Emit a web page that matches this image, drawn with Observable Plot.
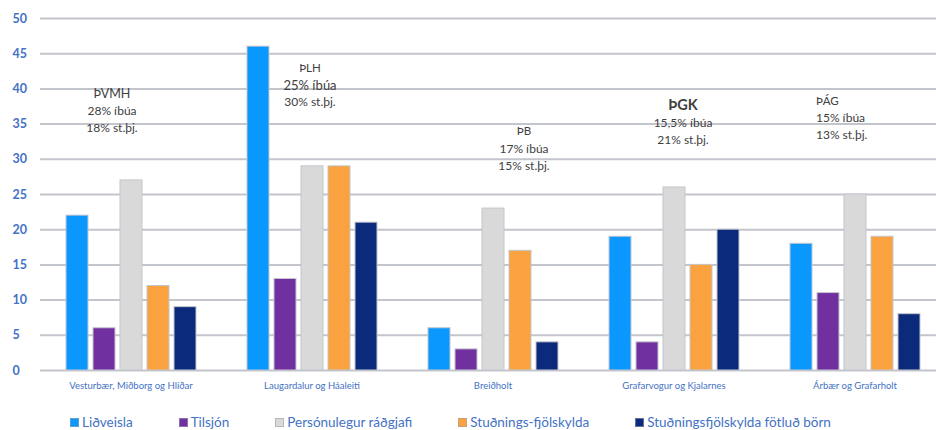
<!DOCTYPE html>
<html>
<head>
<meta charset="utf-8">
<script src="https://cdn.jsdelivr.net/npm/d3@7"></script>
<script src="https://cdn.jsdelivr.net/npm/@observablehq/plot@0.6"></script>
<style>
  html, body { margin: 0; padding: 0; background: #fff; overflow: hidden; }
  #chart { width: 936px; }
  .legend { display: flex; align-items: center; margin-left: 70px; margin-top: 7px; gap: 46px; height: 30px;
            font-family: Lato, "Open Sans", sans-serif; font-size: 13.5px; color: #4472c4; }
  .legend .item { display: flex; align-items: center; gap: 3px; white-space: nowrap; }
  .legend .sw { width: 9px; height: 9px; box-sizing: border-box; border: 1px solid rgba(160,160,170,0.6); }
</style>
</head>
<body>
<div id="chart"></div>
<script>
// ---- data ----
const districts = ["Vesturbær, Miðborg og Hlíðar", "Laugardalur og Háaleiti", "Breiðholt", "Grafarvogur og Kjalarnes", "Árbær og Grafarholt"];
const services = ["Liðveisla", "Tilsjón", "Persónulegur ráðgjafi", "Stuðnings-fjölskylda", "Stuðningsfjölskylda fötluð börn"];
const lidveisla = [22, 46, 6, 19, 18];
const tilsjon = [6, 13, 3, 4, 11];
const personulegur = [27, 29, 23, 26, 25];
const studnings = [12, 29, 17, 15, 19];
const studningsBorn = [9, 21, 4, 20, 8];
const yTicks = [0, 5, 10, 15, 20, 25, 30, 35, 40, 45, 50];

const annoHead = ["ÞVMH", "ÞLH", "ÞB", "ÞGK", "ÞÁG"];
const annoPop = ["28% íbúa", "25% íbúa", "17% íbúa", "15,5% íbúa", "15% íbúa"];
const annoServ = ["18% st.þj.", "30% st.þj.", "15% st.þj.", "21% st.þj.", "13% st.þj."];
const annoLevel = [36.9, 40.5, 31.5, 35.2, 35.8];

// ---- build table ----
const seriesValues = [lidveisla, tilsjon, personulegur, studnings, studningsBorn];
const colors = ["#0a98fe", "#7030a0", "#d9d9d9", "#f9a23f", "#0c2a7c"];
const data = districts.flatMap((d, i) => services.map((s, j) => ({district: d, service: s, value: seriesValues[j][i]})));

// styling offsets for the annotation blocks
const annoStyle = [
  {dx: -19, anchor: "middle", headSize: 12.5, headWeight: "normal"},
  {dx: -2, anchor: "middle", headSize: 11.5, headWeight: "normal"},
  {dx: 31, anchor: "middle", headSize: 11.5, headWeight: "normal"},
  {dx: 9, anchor: "middle", headSize: 14.5, headWeight: "bold"},
  {dx: -39, anchor: "start", headSize: 11.5, headWeight: "normal"}
];

const annoMarks = annoHead.flatMap((h, i) => {
  const st = annoStyle[i];
  const base = {fx: () => districts[i], y: () => annoLevel[i], dx: st.dx, textAnchor: st.anchor, fill: "#404040", fontSize: 12};
  const one = [0];
  return [
    Plot.text(one, {...base, text: () => annoHead[i], dy: -17, fontSize: st.headSize, fontWeight: st.headWeight}),
    Plot.text(one, {...base, text: () => annoPop[i], dy: 0, fontSize: i === 1 ? 13 : 12}),
    Plot.text(one, {...base, text: () => annoServ[i], dy: 17})
  ];
});

const chart = Plot.plot({
  width: 936,
  height: 400,
  marginLeft: 40,
  marginRight: -9,
  marginTop: 18,
  marginBottom: 30,
  style: {fontFamily: "Lato, 'Open Sans', sans-serif", overflow: "visible", background: "#fff"},
  fx: {domain: districts, padding: 0, label: null},
  x: {domain: services, paddingInner: 0.2, paddingOuter: 0.85, axis: null},
  y: {domain: [0, 50], axis: null},
  color: {domain: services, range: colors},
  marks: [
    Plot.gridY(yTicks, {stroke: "#c3c5cd", strokeOpacity: 1, strokeWidth: 2}),
    Plot.axisY(yTicks, {anchor: "left", tickSize: 0, tickPadding: 0, textAnchor: "start", dx: -28, fill: "#4472c4", fontSize: 12.5, fontWeight: "bold", label: null}),
    Plot.axisFx({anchor: "bottom", tickSize: 0, tickPadding: 12, fill: "#4472c4", fontSize: 9.5, label: null}),
    Plot.barY(data, {fx: "district", x: "service", y: "value", fill: "service", stroke: "#c4c6ce", strokeWidth: 1}),
    ...annoMarks
  ]
});
document.getElementById("chart").appendChild(chart);

// legend
const legend = document.createElement("div");
legend.className = "legend";
services.forEach((s, j) => {
  const item = document.createElement("div");
  item.className = "item";
  const sw = document.createElement("span");
  sw.className = "sw";
  sw.style.background = colors[j];
  const t = document.createElement("span");
  t.textContent = s;
  item.appendChild(sw);
  item.appendChild(t);
  legend.appendChild(item);
});
document.getElementById("chart").appendChild(legend);
</script>
</body>
</html>
